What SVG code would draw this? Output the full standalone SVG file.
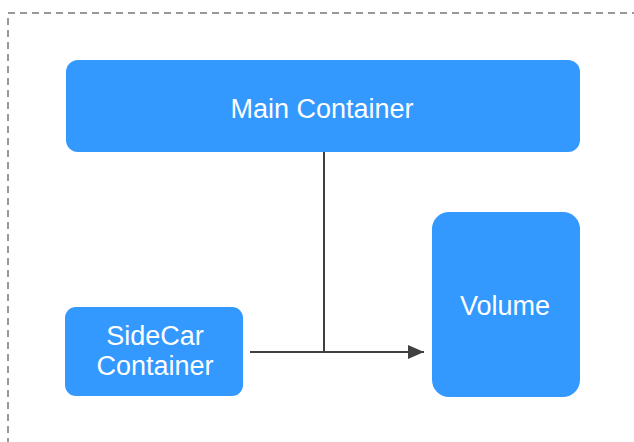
<svg xmlns="http://www.w3.org/2000/svg" width="634" height="442" viewBox="0 0 634 442">
  <defs>
    <style>
      .box { fill: #3399FF; }
      .lbl { fill: #FFFFFF; font-family: "Liberation Sans", Arial, sans-serif; font-size: 27px; text-anchor: middle; }
      .edge { stroke: #404040; stroke-width: 2; fill: none; }
    </style>
    <marker id="arrow" markerWidth="16" markerHeight="14" refX="16" refY="7" orient="auto" markerUnits="userSpaceOnUse" viewBox="0 0 16 14">
      <path d="M0,0 L16,7 L0,14 Z" fill="#404040"/>
    </marker>
  </defs>
  <rect x="0" y="0" width="634" height="442" fill="#FFFFFF"/>
  <rect id="frame" x="8" y="13" width="700" height="500" fill="none" stroke="#999999" stroke-width="2" stroke-dasharray="7 5"/>
  <g id="main-container">
    <rect class="box" x="66" y="60" width="514" height="92" rx="12"/>
    <text class="lbl" x="322" y="118">Main Container</text>
  </g>
  <g id="volume">
    <rect class="box" x="432" y="212" width="148" height="185" rx="17"/>
    <text class="lbl" x="505" y="315">Volume</text>
  </g>
  <g id="sidecar-container">
    <rect class="box" x="65" y="307" width="178" height="89" rx="11"/>
    <text class="lbl" x="155" y="345">SideCar</text>
    <text class="lbl" x="155" y="375">Container</text>
  </g>
  <g id="connectors">
    <line class="edge" x1="324" y1="152" x2="324" y2="352"/>
    <line class="edge" x1="250" y1="352" x2="424" y2="352" marker-end="url(#arrow)"/>
  </g>
</svg>
